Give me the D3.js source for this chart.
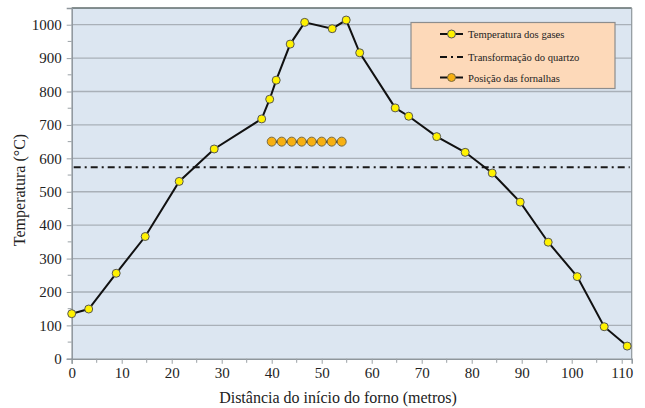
<!DOCTYPE html>
<html>
<head>
<meta charset="utf-8">
<script src="https://cdn.jsdelivr.net/npm/d3@7"></script>
<style>
  html, body { margin: 0; padding: 0; background: #fff; }
  svg { display: block; }
  text { font-family: "Liberation Serif", "Times New Roman", serif; fill: #222; }
</style>
</head>
<body>
<svg id="chart" width="645" height="408"></svg>
<script>
// Gas temperature along the kiln (distance in metres, temperature in °C)
const distancia = [0, 3.4, 8.9, 14.7, 21.5, 28.5, 38.0, 39.6, 40.9, 43.7, 46.6, 52.1, 54.9, 57.6,
                   64.7, 67.4, 73.0, 78.7, 84.1, 89.7, 95.3, 101.1, 106.5, 111.1];
const temperatura = [135, 149, 256, 366, 531, 628, 718, 777, 834, 942, 1007, 988, 1014, 916,
                     751, 726, 665, 618, 556, 469, 349, 246, 96, 38];

// Burner positions and the level at which they are drawn
const fornalhasX = [40, 42, 44, 46, 48, 50, 52, 54];
const fornalhasY = 650;

// Quartz transformation temperature
const quartzo = 573;

const xTicks = [0, 10, 20, 30, 40, 50, 60, 70, 80, 90, 100, 110];
const yTicks = [0, 100, 200, 300, 400, 500, 600, 700, 800, 900, 1000];

const legendLabels = ["Temperatura dos gases", "Transformação do quartzo", "Posição das fornalhas"];

const serif = "'Liberation Serif', 'Times New Roman', serif";
const svg = d3.select("#chart");
const plotL = 71.7, plotR = 631.7, plotT = 8, plotB = 358.8;

const x = d3.scaleLinear().domain([0, 112]).range([plotL, plotR]);
const y = d3.scaleLinear().domain([0, 1050]).range([plotB, plotT]);

// plot background
svg.append("rect")
  .attr("x", plotL).attr("y", plotT)
  .attr("width", plotR - plotL).attr("height", plotB - plotT)
  .attr("fill", "#dce6f1");

// horizontal gridlines
svg.append("g")
  .selectAll("line")
  .data(yTicks.filter(d => d > 0))
  .join("line")
  .attr("x1", plotL).attr("x2", plotR)
  .attr("y1", d => y(d)).attr("y2", d => y(d))
  .attr("stroke", "#a9b0b8").attr("stroke-width", 1.3);

// frame: darker top edge, gray right edge
svg.append("line").attr("x1", plotL).attr("x2", plotR).attr("y1", plotT).attr("y2", plotT)
  .attr("stroke", "#5f6b6b").attr("stroke-width", 1.5);
svg.append("line").attr("x1", plotR).attr("x2", plotR).attr("y1", plotT).attr("y2", plotB)
  .attr("stroke", "#8e969c").attr("stroke-width", 1.2);

// axes
const xAxis = d3.axisBottom(x).tickValues(xTicks).tickSize(5).tickPadding(4).tickFormat(d3.format("d"));
const yAxis = d3.axisLeft(y).tickValues(yTicks).tickSize(5).tickPadding(5).tickFormat(d3.format("d"));

const gx = svg.append("g").attr("transform", `translate(0,${plotB})`).call(xAxis);
const gy = svg.append("g").attr("transform", `translate(${plotL},0)`).call(yAxis);

// minor ticks
const xMinor = d3.range(5, 112, 10);
const yMinor = d3.range(50, 1050, 100);
gx.selectAll(".minor").data(xMinor).join("line").attr("class", "minor")
  .attr("x1", d => x(d)).attr("x2", d => x(d)).attr("y1", 0).attr("y2", 4);
gy.selectAll(".minor").data(yMinor).join("line").attr("class", "minor")
  .attr("y1", d => y(d)).attr("y2", d => y(d)).attr("x1", 0).attr("x2", -4);

[gx, gy].forEach(g => {
  g.attr("font-family", serif).attr("font-size", 15);
  g.select(".domain").attr("stroke", "#8e969c").attr("stroke-width", 1.5);
  g.selectAll("line").attr("stroke", "#9aa1a6").attr("stroke-width", 1);
  g.selectAll(".tick text").attr("fill", "#222");
});

// quartz transformation line
svg.append("line")
  .attr("x1", plotL + 2).attr("x2", plotR - 2)
  .attr("y1", y(quartzo)).attr("y2", y(quartzo))
  .attr("stroke", "#1a1a1a").attr("stroke-width", 2)
  .attr("stroke-dasharray", "7,4,2,4");

// gas temperature curve
const pts = distancia.map((d, i) => [d, temperatura[i]]);
svg.append("path")
  .datum(pts)
  .attr("fill", "none").attr("stroke", "#111").attr("stroke-width", 2)
  .attr("d", d3.line().x(d => x(d[0])).y(d => y(d[1])));
svg.append("g").selectAll("circle").data(pts).join("circle")
  .attr("cx", d => x(d[0])).attr("cy", d => y(d[1])).attr("r", 4)
  .attr("fill", "#fff200").attr("stroke", "#555").attr("stroke-width", 1);

// burners
svg.append("line")
  .attr("x1", x(fornalhasX[0])).attr("x2", x(fornalhasX[fornalhasX.length - 1]))
  .attr("y1", y(fornalhasY)).attr("y2", y(fornalhasY))
  .attr("stroke", "#111").attr("stroke-width", 2);
svg.append("g").selectAll("circle").data(fornalhasX).join("circle")
  .attr("cx", d => x(d)).attr("cy", y(fornalhasY)).attr("r", 4.5)
  .attr("fill", "#f7b011").attr("stroke", "#7a6a40").attr("stroke-width", 1);

// axis titles
svg.append("text")
  .attr("x", 338).attr("y", 403)
  .attr("text-anchor", "middle")
  .attr("font-family", serif).attr("font-size", 16)
  .text("Distância do início do forno (metros)");
svg.append("text")
  .attr("transform", "translate(25,190) rotate(-90)")
  .attr("text-anchor", "middle")
  .attr("font-family", serif).attr("font-size", 16)
  .text("Temperatura (°C)");

// legend
const lg = svg.append("g");
lg.append("rect")
  .attr("x", 411).attr("y", 22.5).attr("width", 204).attr("height", 66)
  .attr("fill", "#fdd9b9").attr("stroke", "#8d8d8d").attr("stroke-width", 1.2);
const rowsY = [34, 57, 77.5];
const sx1 = 440, sx2 = 463;

// row 1: gas temperature
lg.append("line").attr("x1", sx1).attr("x2", sx2).attr("y1", rowsY[0]).attr("y2", rowsY[0])
  .attr("stroke", "#111").attr("stroke-width", 2);
lg.append("circle").attr("cx", (sx1 + sx2) / 2).attr("cy", rowsY[0]).attr("r", 4)
  .attr("fill", "#fff200").attr("stroke", "#555");
// row 2: quartz
lg.append("line").attr("x1", sx1).attr("x2", sx2).attr("y1", rowsY[1]).attr("y2", rowsY[1])
  .attr("stroke", "#111").attr("stroke-width", 2).attr("stroke-dasharray", "7,4,2,4");
// row 3: burners
lg.append("line").attr("x1", sx1).attr("x2", sx2).attr("y1", rowsY[2]).attr("y2", rowsY[2])
  .attr("stroke", "#111").attr("stroke-width", 2);
lg.append("circle").attr("cx", (sx1 + sx2) / 2).attr("cy", rowsY[2]).attr("r", 4)
  .attr("fill", "#f7b011").attr("stroke", "#7a6a40");

lg.selectAll("text.lab").data(legendLabels).join("text").attr("class", "lab")
  .attr("x", 468).attr("y", (d, i) => rowsY[i] + 4)
  .attr("font-family", serif).attr("font-size", 10.6)
  .text(d => d);
</script>
</body>
</html>
